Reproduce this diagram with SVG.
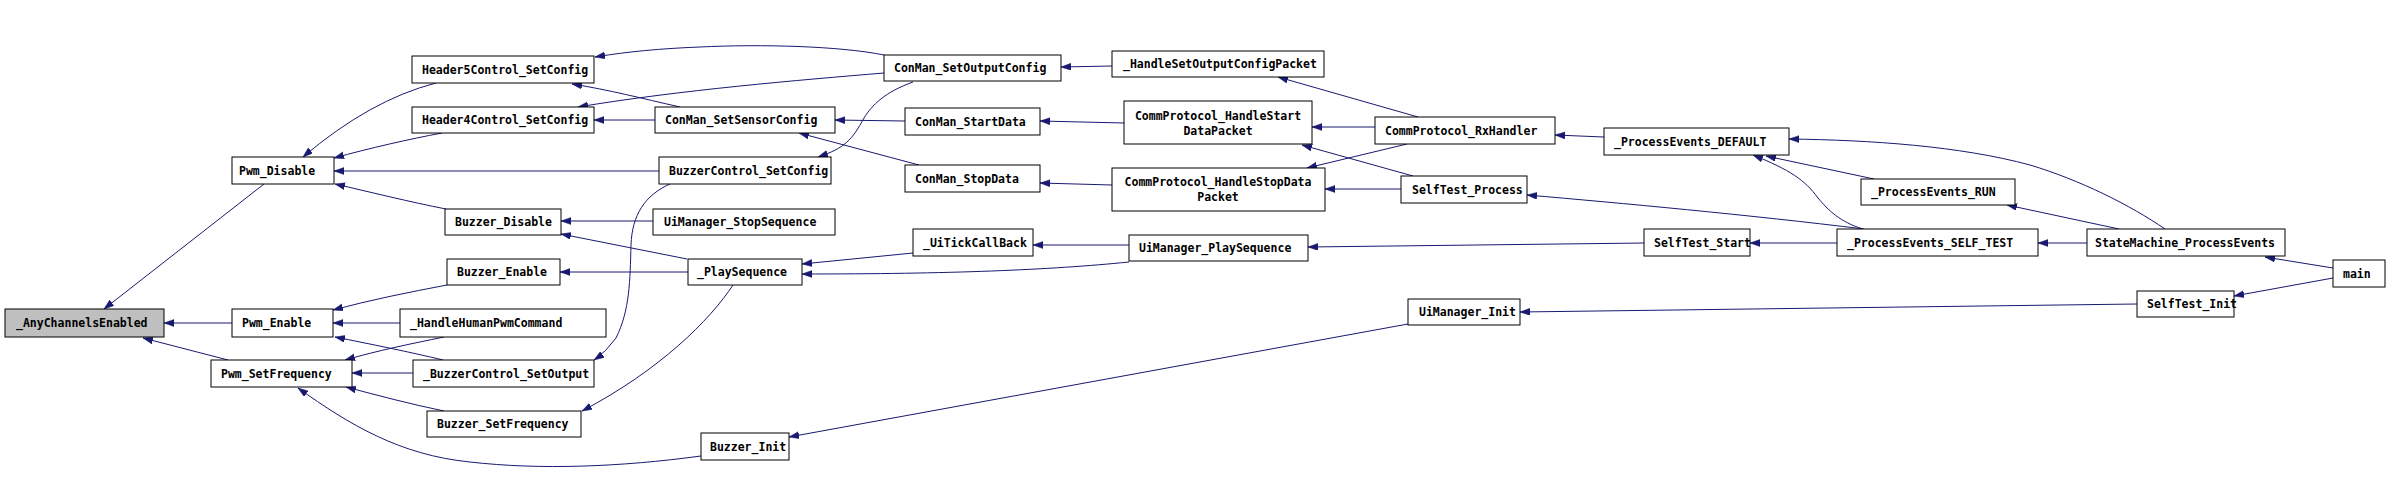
<svg xmlns="http://www.w3.org/2000/svg" width="2389" height="493" viewBox="0 0 2389 493">
<style>
.n rect{fill:#fff;stroke:#000;stroke-width:1}
.n text{font-family:"DejaVu Sans Mono","Liberation Mono",monospace;font-size:11.5px;font-weight:bold;fill:#000}
.c{text-anchor:middle}
#edges path{fill:none;stroke:#191970;stroke-width:1;marker-end:url(#ah)}
</style>
<defs>
<marker id="ah" markerUnits="userSpaceOnUse" markerWidth="11" markerHeight="8" refX="10" refY="3.5" orient="auto">
<path d="M0,0 L10,3.5 L0,7 z" fill="#191970" stroke="#191970" stroke-width="0.5"/>
</marker>
</defs>
<rect width="2389" height="493" fill="#fff"/>
<g id="edges">
<path d="M264,184 L104,309"/>
<path d="M232,323 L164,323"/>
<path d="M228,360 L143,338"/>
<path d="M436,83 Q370,100 303,157"/>
<path d="M442,133 C410,139 370,148 334,158"/>
<path d="M659,171 L334,171"/>
<path d="M446,209 C410,202 370,192 335,184"/>
<path d="M447,285 C410,292 370,300 333,310"/>
<path d="M400,323 L333,323"/>
<path d="M443,360 C410,352 370,344 335,337"/>
<path d="M444,337 C410,344 380,350 345,360"/>
<path d="M413,373 L352,373"/>
<path d="M444,411 C410,404 380,396 346,387"/>
<path d="M701,456 C620,467 540,470 470,462 C400,455 350,425 298,388"/>
<path d="M884,55 C840,46 760,44 700,47 C650,49 620,53 595,57"/>
<path d="M884,73 C800,80 680,90 578,107"/>
<path d="M680,107 C640,98 610,90 572,84"/>
<path d="M655,120 L594,120"/>
<path d="M913,82 C885,92 872,105 864,118 C852,140 845,148 818,157"/>
<path d="M905,121 L835,120"/>
<path d="M919,165 L799,133"/>
<path d="M670,184 C645,195 632,215 631,245 C630,280 630,310 616,338 Q606,352 594,360"/>
<path d="M687,259 L561,234"/>
<path d="M653,221 L561,221"/>
<path d="M688,272 L560,272"/>
<path d="M733,285 C710,320 660,370 582,411"/>
<path d="M913,253 L802,264"/>
<path d="M1129,262 C1050,270 950,274 802,274"/>
<path d="M1129,245 L1033,245"/>
<path d="M1408,324 L789,437"/>
<path d="M1112,66 L1061,67"/>
<path d="M1124,123 L1040,121"/>
<path d="M1112,185 L1040,183"/>
<path d="M1418,117 L1278,77"/>
<path d="M1375,127 L1312,127"/>
<path d="M1407,144 L1307,168"/>
<path d="M1413,176 L1302,145"/>
<path d="M1401,189 L1325,189"/>
<path d="M1604,137 L1555,135"/>
<path d="M1864,229 C1750,215 1620,203 1527,195"/>
<path d="M1837,243 L1750,243"/>
<path d="M1644,243 L1308,247"/>
<path d="M1874,179 L1766,156"/>
<path d="M1863,229 C1840,222 1828,210 1818,198 C1805,180 1790,170 1753,155"/>
<path d="M2165,229 C2130,205 2080,180 2030,165 C1960,146 1870,140 1789,139"/>
<path d="M2119,229 L2007,205"/>
<path d="M2087,243 L2038,243"/>
<path d="M2333,268 L2265,257"/>
<path d="M2333,278 L2234,296"/>
<path d="M2137,304 L1520,312"/>
</g>
<g id="n_AnyChannelsEnabled" class="n"><rect x="5" y="309" width="159" height="28" style="fill:#bfbfbf"/><text x="16" y="327">_AnyChannelsEnabled</text></g>
<g id="nPwm_Disable" class="n"><rect x="232" y="157" width="102" height="27"/><text x="239" y="175">Pwm_Disable</text></g>
<g id="nPwm_Enable" class="n"><rect x="232" y="309" width="101" height="28"/><text x="242" y="327">Pwm_Enable</text></g>
<g id="nPwm_SetFrequency" class="n"><rect x="211" y="360" width="141" height="27"/><text x="221" y="378">Pwm_SetFrequency</text></g>
<g id="nHeader5" class="n"><rect x="412" y="56" width="182" height="27"/><text x="422" y="74">Header5Control_SetConfig</text></g>
<g id="nHeader4" class="n"><rect x="412" y="107" width="182" height="26"/><text x="422" y="124">Header4Control_SetConfig</text></g>
<g id="nBuzzer_Disable" class="n"><rect x="445" y="209" width="116" height="26"/><text x="455" y="226">Buzzer_Disable</text></g>
<g id="nBuzzer_Enable" class="n"><rect x="447" y="259" width="113" height="26"/><text x="457" y="276">Buzzer_Enable</text></g>
<g id="n_HandleHumanPwmCommand" class="n"><rect x="400" y="309" width="206" height="28"/><text x="410" y="327">_HandleHumanPwmCommand</text></g>
<g id="n_BuzzerControl_SetOutput" class="n"><rect x="413" y="360" width="181" height="27"/><text x="423" y="378">_BuzzerControl_SetOutput</text></g>
<g id="nBuzzer_SetFrequency" class="n"><rect x="427" y="411" width="154" height="26"/><text x="437" y="428">Buzzer_SetFrequency</text></g>
<g id="nConMan_SetOutputConfig" class="n"><rect x="884" y="55" width="177" height="26"/><text x="894" y="72">ConMan_SetOutputConfig</text></g>
<g id="n_HandleSetOutputConfigPacket" class="n"><rect x="1112" y="51" width="212" height="26"/><text x="1123" y="68">_HandleSetOutputConfigPacket</text></g>
<g id="nConMan_SetSensorConfig" class="n"><rect x="655" y="107" width="180" height="26"/><text x="665" y="124">ConMan_SetSensorConfig</text></g>
<g id="nConMan_StartData" class="n"><rect x="905" y="108" width="135" height="27"/><text x="915" y="126">ConMan_StartData</text></g>
<g id="nCommProtocol_HandleStartDataPacket" class="n"><rect x="1124" y="101" width="188" height="43"/><text class="c" x="1218" y="120">CommProtocol_HandleStart</text><text class="c" x="1218" y="135">DataPacket</text></g>
<g id="nBuzzerControl_SetConfig" class="n"><rect x="659" y="157" width="172" height="27"/><text x="669" y="175">BuzzerControl_SetConfig</text></g>
<g id="nConMan_StopData" class="n"><rect x="905" y="165" width="135" height="27"/><text x="915" y="183">ConMan_StopData</text></g>
<g id="nCommProtocol_HandleStopDataPacket" class="n"><rect x="1112" y="168" width="213" height="43"/><text class="c" x="1218" y="186">CommProtocol_HandleStopData</text><text class="c" x="1218" y="201">Packet</text></g>
<g id="nUiManager_StopSequence" class="n"><rect x="653" y="209" width="182" height="26"/><text x="664" y="226">UiManager_StopSequence</text></g>
<g id="n_UiTickCallBack" class="n"><rect x="913" y="229" width="120" height="27"/><text x="923" y="247">_UiTickCallBack</text></g>
<g id="n_PlaySequence" class="n"><rect x="688" y="259" width="114" height="26"/><text x="697" y="276">_PlaySequence</text></g>
<g id="nBuzzer_Init" class="n"><rect x="701" y="433" width="88" height="27"/><text x="710" y="451">Buzzer_Init</text></g>
<g id="nUiManager_PlaySequence" class="n"><rect x="1129" y="235" width="179" height="26"/><text x="1139" y="252">UiManager_PlaySequence</text></g>
<g id="nCommProtocol_RxHandler" class="n"><rect x="1375" y="117" width="180" height="27"/><text x="1385" y="135">CommProtocol_RxHandler</text></g>
<g id="nSelfTest_Process" class="n"><rect x="1401" y="176" width="126" height="27"/><text x="1412" y="194">SelfTest_Process</text></g>
<g id="n_ProcessEvents_DEFAULT" class="n"><rect x="1604" y="128" width="185" height="27"/><text x="1614" y="146">_ProcessEvents_DEFAULT</text></g>
<g id="nSelfTest_Start" class="n"><rect x="1644" y="229" width="106" height="27"/><text x="1654" y="247">SelfTest_Start</text></g>
<g id="nUiManager_Init" class="n"><rect x="1408" y="299" width="112" height="26"/><text x="1419" y="316">UiManager_Init</text></g>
<g id="n_ProcessEvents_RUN" class="n"><rect x="1861" y="179" width="154" height="26"/><text x="1871" y="196">_ProcessEvents_RUN</text></g>
<g id="n_ProcessEvents_SELF_TEST" class="n"><rect x="1837" y="229" width="201" height="27"/><text x="1847" y="247">_ProcessEvents_SELF_TEST</text></g>
<g id="nStateMachine_ProcessEvents" class="n"><rect x="2087" y="229" width="198" height="27"/><text x="2095" y="247">StateMachine_ProcessEvents</text></g>
<g id="nmain" class="n"><rect x="2333" y="260" width="52" height="27"/><text x="2343" y="278">main</text></g>
<g id="nSelfTest_Init" class="n"><rect x="2137" y="291" width="97" height="26"/><text x="2147" y="308">SelfTest_Init</text></g>
</svg>
